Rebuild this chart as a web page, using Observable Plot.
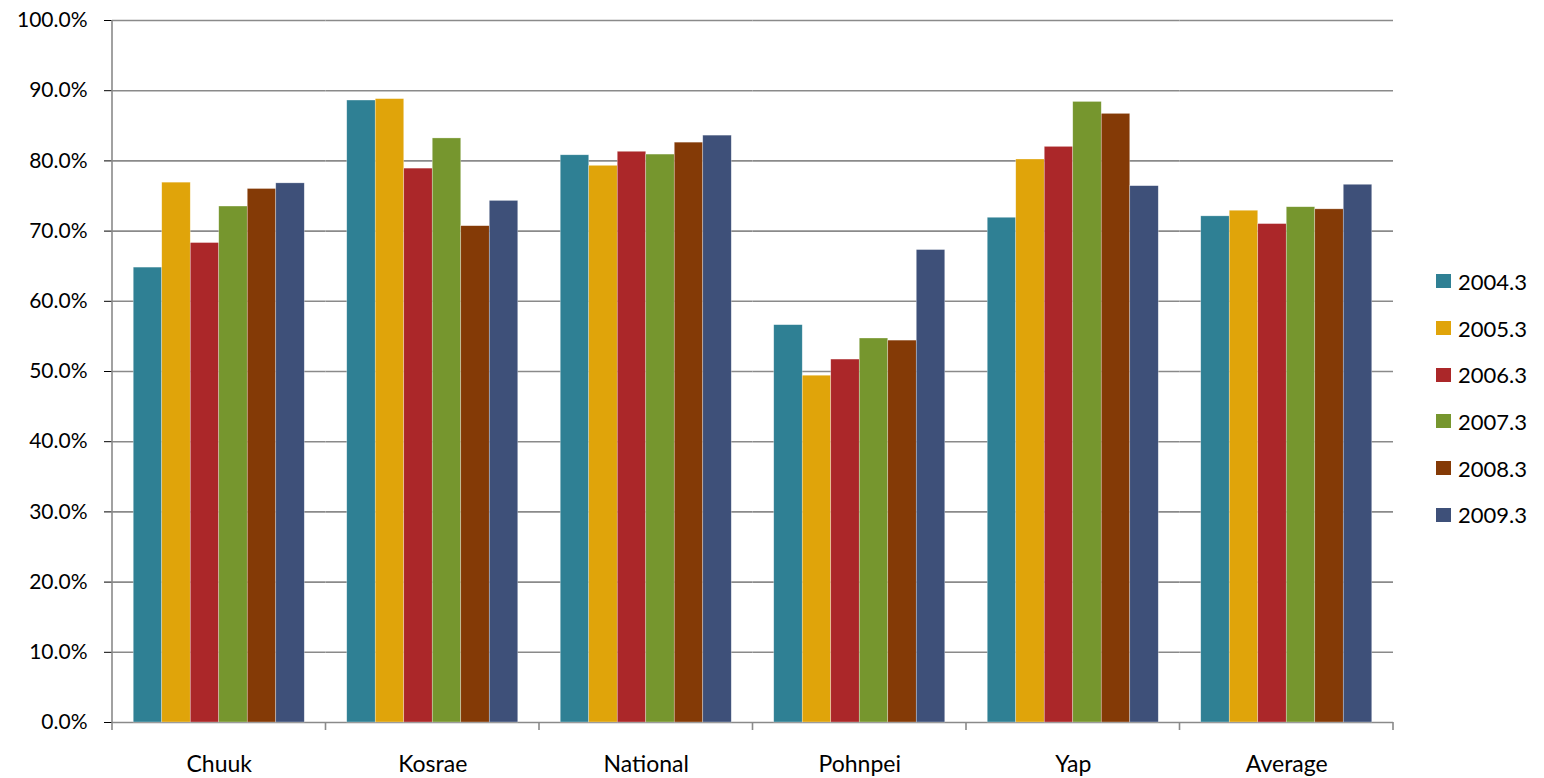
<!DOCTYPE html>
<html>
<head>
<meta charset="utf-8">
<script src="https://cdn.jsdelivr.net/npm/d3@7"></script>
<script src="https://cdn.jsdelivr.net/npm/@observablehq/plot@0.6"></script>
<style>
  html, body { margin: 0; padding: 0; background: #fff; }
  #wrap { position: relative; width: 1544px; height: 778px; font-family: Lato, "Open Sans", sans-serif; }
  #legend { position: absolute; left: 1436px; top: 258px; }
  .li { display: flex; align-items: center; height: 46.7px; font-size: 22px; color: #000; }
  .sw { width: 15px; height: 14px; margin-right: 7px; }
  #wrap svg text { fill: #000; }
</style>
</head>
<body>
<div id="wrap"><div id="legend"></div></div>
<script>
const categories = ["Chuuk", "Kosrae", "National", "Pohnpei", "Yap", "Average"];
const seriesLabels = ["2004.3", "2005.3", "2006.3", "2007.3", "2008.3", "2009.3"];
const colors = ["#2f8094", "#e0a40a", "#ab2729", "#76962e", "#843a06", "#3e5079"];
const v2004 = [64.8, 88.6, 80.8, 56.6, 71.9, 72.1];
const v2005 = [76.9, 88.8, 79.3, 49.4, 80.2, 72.9];
const v2006 = [68.3, 78.9, 81.3, 51.7, 82.0, 71.0];
const v2007 = [73.5, 83.2, 80.9, 54.7, 88.4, 73.4];
const v2008 = [76.0, 70.7, 82.6, 54.4, 86.7, 73.1];
const v2009 = [76.8, 74.3, 83.6, 67.3, 76.4, 76.6];
const yTicks = [0, 10, 20, 30, 40, 50, 60, 70, 80, 90, 100];

const seriesValues = [v2004, v2005, v2006, v2007, v2008, v2009];
const data = [];
categories.forEach((c, i) => {
  seriesLabels.forEach((s, j) => {
    data.push({category: c, series: s, value: seriesValues[j][i]});
  });
});

const plot = Plot.plot({
  width: 1544,
  height: 778,
  marginLeft: 112,
  marginRight: 151,
  marginTop: 20,
  marginBottom: 56,
  style: {fontFamily: "Lato, 'Open Sans', sans-serif", fontSize: "21px", color: "#000", background: "#fff"},
  facet: {data, x: "category"},
  fx: {domain: categories, padding: 0, round: false, axis: "bottom", label: null, tickSize: 0, tickPadding: 33},
  x: {domain: seriesLabels, paddingInner: 0, paddingOuter: 0.745, axis: null, round: false},
  y: {domain: [0, 100], ticks: yTicks, tickFormat: d => d.toFixed(1) + "%", label: null, tickSize: 8, tickPadding: 17},
  color: {domain: seriesLabels, range: colors},
  marks: [
    Plot.ruleY(yTicks, {stroke: "#8a8a8a", strokeWidth: 1.6}),
    Plot.barY(data, {x: "series", y: "value", fill: "series", stroke: "#ffffff", strokeWidth: 0.6, strokeOpacity: 0.5})
  ]
});

// axis frame: left line and category boundary ticks derived from the scales
const fxs = plot.scale("fx");
const ys = plot.scale("y");
const r0 = fxs.range[0], r1 = fxs.range[1];
const y0 = ys.range[0], y1 = ys.range[1];
const n = categories.length;
const step = (r1 - r0) / n;
const svg = d3.select(plot.tagName === "svg" ? plot : plot.querySelector("svg"));
const g = svg.append("g").attr("stroke", "#8a8a8a").attr("stroke-width", 1.6);
g.append("line").attr("x1", r0).attr("x2", r0).attr("y1", y1).attr("y2", y0);
d3.range(n + 1).forEach(i => {
  const x = r0 + i * step;
  g.append("line").attr("x1", x).attr("x2", x).attr("y1", y0).attr("y2", y0 + 8);
});
// font sizes of axis labels
svg.selectAll("text").each(function() {
  const t = d3.select(this);
  const s = t.text();
  if (categories.includes(s)) t.style("font-size", "23px");
  else t.style("font-size", "21px");
});

document.getElementById("wrap").prepend(plot);
plot.style.position = "absolute";
plot.style.left = "0";
plot.style.top = "0";

const legend = document.getElementById("legend");
seriesLabels.forEach((s, i) => {
  const row = document.createElement("div");
  row.className = "li";
  const sw = document.createElement("div");
  sw.className = "sw";
  sw.style.background = colors[i];
  const t = document.createElement("span");
  t.textContent = s;
  row.appendChild(sw);
  row.appendChild(t);
  legend.appendChild(row);
});
</script>
</body>
</html>
